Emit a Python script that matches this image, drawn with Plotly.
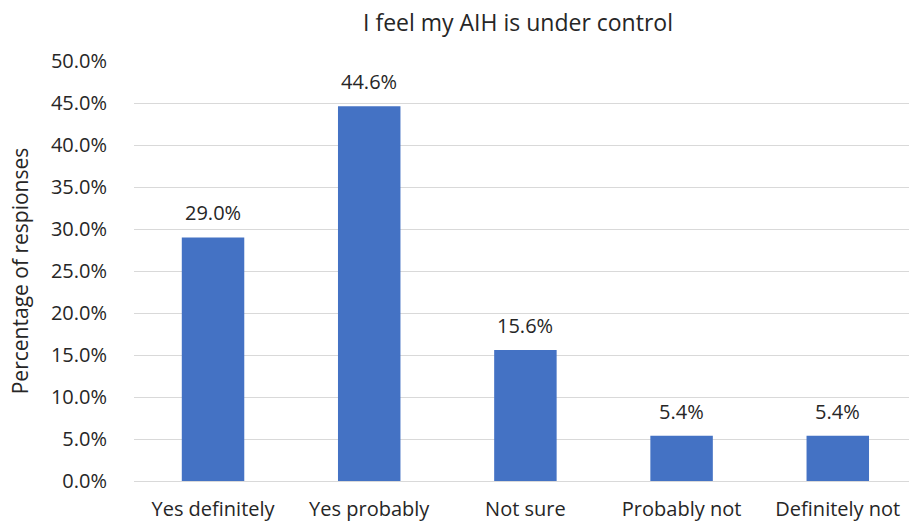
import plotly.graph_objects as go

categories = ["Yes definitely", "Yes probably", "Not sure", "Probably not", "Definitely not"]
shares = [0.290, 0.446, 0.156, 0.054, 0.054]
y_ticks = [0.0, 0.05, 0.10, 0.15, 0.20, 0.25, 0.30, 0.35, 0.40, 0.45, 0.50]

FONT = "Open Sans"
TEXT = "#262626"
BAR = "#4472C4"
SIZE = 20

fig = go.Figure(
    go.Bar(
        x=list(range(len(categories))),
        y=shares,
        width=0.4,
        marker=dict(color=BAR, line=dict(width=0)),
        hoverinfo="skip",
    )
)

# value labels above each bar
for i, v in enumerate(shares):
    fig.add_annotation(
        x=i, y=v, text=f"{v*100:.1f}%", showarrow=False,
        yanchor="bottom", yshift=9,
        font=dict(family=FONT, size=SIZE, color=TEXT),
    )

fig.update_layout(
    width=909, height=522,
    margin=dict(l=134, r=0, t=61, b=41, autoexpand=False),
    paper_bgcolor="white", plot_bgcolor="white",
    showlegend=False,
    title=dict(
        text="I feel my AIH is under control",
        x=518 / 909, xanchor="center", xref="container",
        y=1 - 23 / 522, yanchor="middle", yref="container",
        font=dict(family=FONT, size=23, color=TEXT),
    ),
    font=dict(family=FONT, size=SIZE, color=TEXT),
)

fig.update_xaxes(
    tickmode="array", tickvals=list(range(len(categories))), ticktext=categories,
    range=[-0.506, 4.456], automargin=False,
    showgrid=False, zeroline=False, showline=False,
    ticks="outside", ticklen=10, tickcolor="rgba(0,0,0,0)",
    tickfont=dict(family=FONT, size=SIZE, color=TEXT),
    fixedrange=True,
)

fig.update_yaxes(
    range=[0, 0.5], tickvals=y_ticks, tickformat=".1%", automargin=False,
    showgrid=True, gridcolor="#D9D9D9", gridwidth=1.3,
    zeroline=True, zerolinecolor="#D9D9D9", zerolinewidth=1.3,
    showline=False,
    ticks="outside", ticklen=22, tickcolor="rgba(0,0,0,0)",
    tickfont=dict(family=FONT, size=SIZE, color=TEXT),
    title=dict(text="Percentage of respionses", standoff=16,
               font=dict(family=FONT, size=21, color=TEXT)),
    fixedrange=True,
)

fig.write_html("out.html")
